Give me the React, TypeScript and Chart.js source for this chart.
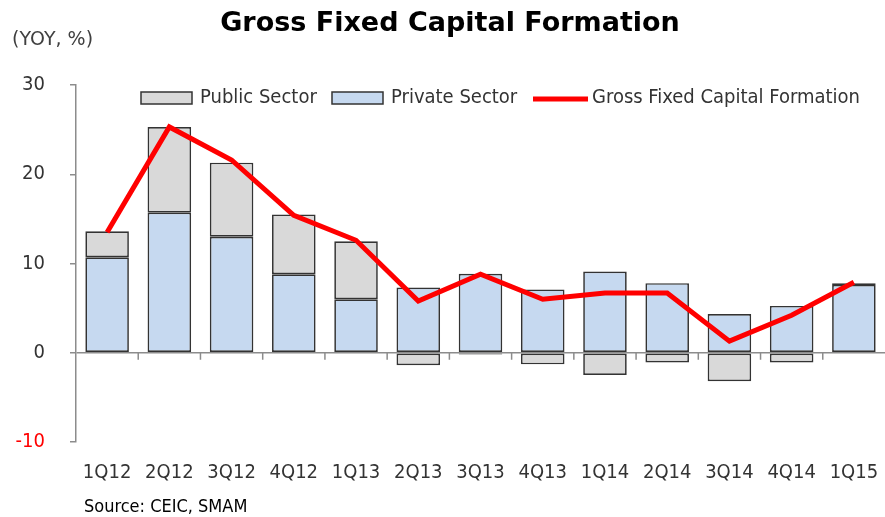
import React, { useEffect, useRef } from "react";
import { Chart, registerables } from "chart.js";

Chart.register(...registerables);

const categories = ["1Q12", "2Q12", "3Q12", "4Q12", "1Q13", "2Q13", "3Q13", "4Q13", "1Q14", "2Q14", "3Q14", "4Q14", "1Q15"];
const privateSector = [10.7, 15.7, 13.0, 8.8, 6.0, 7.3, 8.85, 7.1, 9.1, 7.8, 4.35, 5.25, 7.6];
const publicSector = [2.9, 9.6, 8.3, 6.7, 6.5, -1.4, -0.2, -1.3, -2.5, -1.1, -3.2, -1.1, 0.2];
const gfcf = [13.5, 25.3, 21.6, 15.4, 12.6, 5.8, 8.8, 6.0, 6.7, 6.7, 1.3, 4.2, 7.9];
const yTicks = [-10, 0, 10, 20, 30];

const FONT = '"DejaVu Sans Condensed", "DejaVu Sans", sans-serif';
const FONT_WIDE = '"DejaVu Sans", sans-serif';
const PUBLIC_COLOR = "#d9d9d9";
const PRIVATE_COLOR = "#c6d9f0";
const EDGE = "#333333";
const AXIS = "#8c8c8c";

const legendItems = [
  { label: "Public Sector", type: "box", color: PUBLIC_COLOR, x: 141 },
  { label: "Private Sector", type: "box", color: PRIVATE_COLOR, x: 332 },
  { label: "Gross Fixed Capital Formation", type: "line", color: "#ff0000", x: 533 },
];

const extras = {
  id: "extras",
  beforeDatasetsDraw(chart: any) {
    const { ctx, scales } = chart;
    const x = scales.x;
    const y = scales.y;
    const y0 = y.getPixelForValue(0);
    ctx.save();
    ctx.strokeStyle = AXIS;
    ctx.lineWidth = 1.5;
    for (let i = 1; i < categories.length; i++) {
      const px = (x.getPixelForValue(i - 1) + x.getPixelForValue(i)) / 2;
      ctx.beginPath();
      ctx.moveTo(px, y0);
      ctx.lineTo(px, y0 + 7);
      ctx.stroke();
    }
    ctx.restore();
  },
  afterDraw(chart: any) {
    const { ctx } = chart;
    ctx.save();
    // title
    ctx.fillStyle = "#000";
    ctx.font = `bold 27px ${FONT_WIDE}`;
    ctx.textAlign = "center";
    ctx.textBaseline = "middle";
    ctx.fillText("Gross Fixed Capital Formation", 450, 24);
    // unit label
    ctx.fillStyle = "#404040";
    ctx.font = `19px ${FONT_WIDE}`;
    ctx.textAlign = "left";
    ctx.fillText("(YOY, %)", 12, 40);
    // source
    ctx.fillStyle = "#000";
    ctx.font = `18px ${FONT}`;
    ctx.fillText("Source: CEIC, SMAM", 84, 507);
    // legend
    ctx.font = `20px ${FONT}`;
    const ly = 98;
    for (const it of legendItems) {
      const lx = it.x;
      if (it.type === "box") {
        ctx.fillStyle = it.color;
        ctx.fillRect(lx, ly - 6, 51, 12);
        ctx.strokeStyle = EDGE;
        ctx.lineWidth = 1.5;
        ctx.strokeRect(lx, ly - 6, 51, 12);
      } else {
        ctx.strokeStyle = it.color;
        ctx.lineWidth = 5;
        ctx.beginPath();
        ctx.moveTo(lx, ly + 1);
        ctx.lineTo(lx + 55, ly + 1);
        ctx.stroke();
      }
      ctx.fillStyle = "#333";
      ctx.fillText(it.label, lx + 59, ly);
    }
    ctx.restore();
  },
};

export default function App() {
  const ref = useRef<HTMLCanvasElement>(null);
  useEffect(() => {
    if (!ref.current) return;
    const chart = new Chart(ref.current, {
      type: "bar",
      data: {
        labels: categories,
        datasets: [
          {
            type: "bar",
            label: "Private Sector",
            data: privateSector,
            backgroundColor: PRIVATE_COLOR,
            borderColor: EDGE,
            borderWidth: 1.7,
            borderSkipped: false,
            stack: "s",
            order: 2,
          },
          {
            type: "bar",
            label: "Public Sector",
            data: publicSector,
            backgroundColor: PUBLIC_COLOR,
            borderColor: EDGE,
            borderWidth: 1.7,
            borderSkipped: false,
            stack: "s",
            order: 2,
          },
          {
            type: "line",
            label: "Gross Fixed Capital Formation",
            data: gfcf,
            borderColor: "#ff0000",
            backgroundColor: "#ff0000",
            borderWidth: 5,
            pointRadius: 0,
            tension: 0,
            order: 0,
          } as any,
        ],
      },
      options: {
        responsive: false,
        animation: false,
        layout: { padding: { top: 85, right: -2.5, left: 0, bottom: 0 } },
        datasets: { bar: { categoryPercentage: 1, barPercentage: 0.7 } },
        plugins: {
          legend: { display: false },
          title: { display: false },
          tooltip: { enabled: false },
        },
        scales: {
          x: {
            stacked: true,
            grid: { display: false, drawTicks: true, tickLength: 19 },
            border: { display: false },
            ticks: {
              color: "#333",
              font: { family: FONT, size: 20 },
              padding: 0,
              maxRotation: 0,
              autoSkip: false,
            },
            afterFit: (s: any) => {
              s.height = 75;
            },
          },
          y: {
            stacked: true,
            min: -10,
            max: 30,
            afterBuildTicks: (s: any) => {
              s.ticks = yTicks.map((v) => ({ value: v }));
            },
            grid: {
              drawOnChartArea: true,
              color: (c: any) => (c.tick && c.tick.value === 0 ? AXIS : "rgba(0,0,0,0)"),
              lineWidth: 1.5,
              tickColor: AXIS,
              tickLength: 6,
            },
            border: { display: true, color: AXIS, width: 1.5 },
            ticks: {
              color: (c: any) => (c.tick && c.tick.value < 0 ? "#ff0000" : "#333"),
              font: { family: FONT, size: 20 },
              padding: 25,
            },
            afterFit: (s: any) => {
              s.width = 76;
            },
          },
        },
      },
      plugins: [extras],
    });
    return () => chart.destroy();
  }, []);
  return (
    <div style={{ position: "absolute", left: 0, top: 0, width: 885, height: 517, background: "#fff" }}>
      <canvas ref={ref} width={885} height={517} style={{ width: 885, height: 517 }} />
    </div>
  );
}
